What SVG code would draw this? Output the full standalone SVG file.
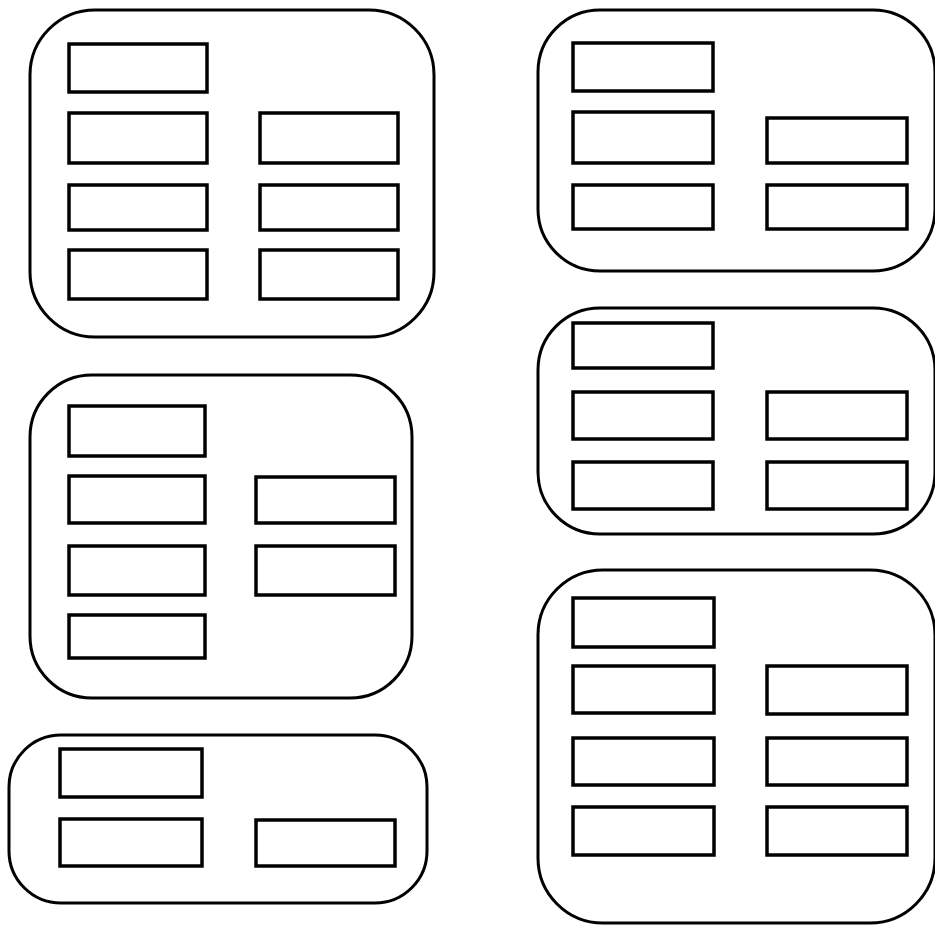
<svg xmlns="http://www.w3.org/2000/svg" width="935" height="925" viewBox="0 0 935 925">
<style>
.outer{fill:none;stroke:#000;stroke-width:3}
.inner{fill:#fff;stroke:#000;stroke-width:3.5}
</style>
<rect width="935" height="925" fill="#fff"/>
<g id="panel1">
<rect class="outer" x="30" y="10" width="404" height="327" rx="65" ry="65"/>
<rect class="inner" x="69" y="44" width="138" height="48"/>
<rect class="inner" x="69" y="113" width="138" height="50"/>
<rect class="inner" x="260" y="113" width="138" height="50"/>
<rect class="inner" x="69" y="185" width="138" height="45"/>
<rect class="inner" x="260" y="185" width="138" height="45"/>
<rect class="inner" x="69" y="250" width="138" height="49"/>
<rect class="inner" x="260" y="250" width="138" height="49"/>
</g>
<g id="panel2">
<rect class="outer" x="30" y="375" width="382" height="323" rx="62" ry="62"/>
<rect class="inner" x="69" y="406" width="136" height="50"/>
<rect class="inner" x="69" y="476" width="136" height="47"/>
<rect class="inner" x="256" y="477" width="139" height="46"/>
<rect class="inner" x="69" y="546" width="136" height="49"/>
<rect class="inner" x="256" y="546" width="139" height="49"/>
<rect class="inner" x="69" y="615" width="136" height="43"/>
</g>
<g id="panel3">
<rect class="outer" x="9" y="735" width="418" height="168" rx="52" ry="52"/>
<rect class="inner" x="60" y="749" width="142" height="48"/>
<rect class="inner" x="60" y="819" width="142" height="47"/>
<rect class="inner" x="256" y="820" width="139" height="46"/>
</g>
<g id="panel4">
<rect class="outer" x="538" y="10" width="397" height="261" rx="62" ry="62"/>
<rect class="inner" x="573" y="43" width="140" height="48"/>
<rect class="inner" x="573" y="112" width="140" height="51"/>
<rect class="inner" x="767" y="118" width="140" height="45"/>
<rect class="inner" x="573" y="185" width="140" height="44"/>
<rect class="inner" x="767" y="185" width="140" height="44"/>
</g>
<g id="panel5">
<rect class="outer" x="538" y="308" width="397" height="226" rx="62" ry="62"/>
<rect class="inner" x="573" y="323" width="140" height="45"/>
<rect class="inner" x="573" y="392" width="140" height="47"/>
<rect class="inner" x="767" y="392" width="140" height="47"/>
<rect class="inner" x="573" y="462" width="140" height="47"/>
<rect class="inner" x="767" y="462" width="140" height="47"/>
</g>
<g id="panel6">
<rect class="outer" x="538" y="570" width="397" height="353" rx="65" ry="65"/>
<rect class="inner" x="573" y="598" width="141" height="49"/>
<rect class="inner" x="573" y="666" width="141" height="47"/>
<rect class="inner" x="767" y="666" width="140" height="48"/>
<rect class="inner" x="573" y="738" width="141" height="47"/>
<rect class="inner" x="767" y="738" width="140" height="47"/>
<rect class="inner" x="573" y="807" width="141" height="48"/>
<rect class="inner" x="767" y="807" width="140" height="48"/>
</g>
<g id="connectors"/>
</svg>
